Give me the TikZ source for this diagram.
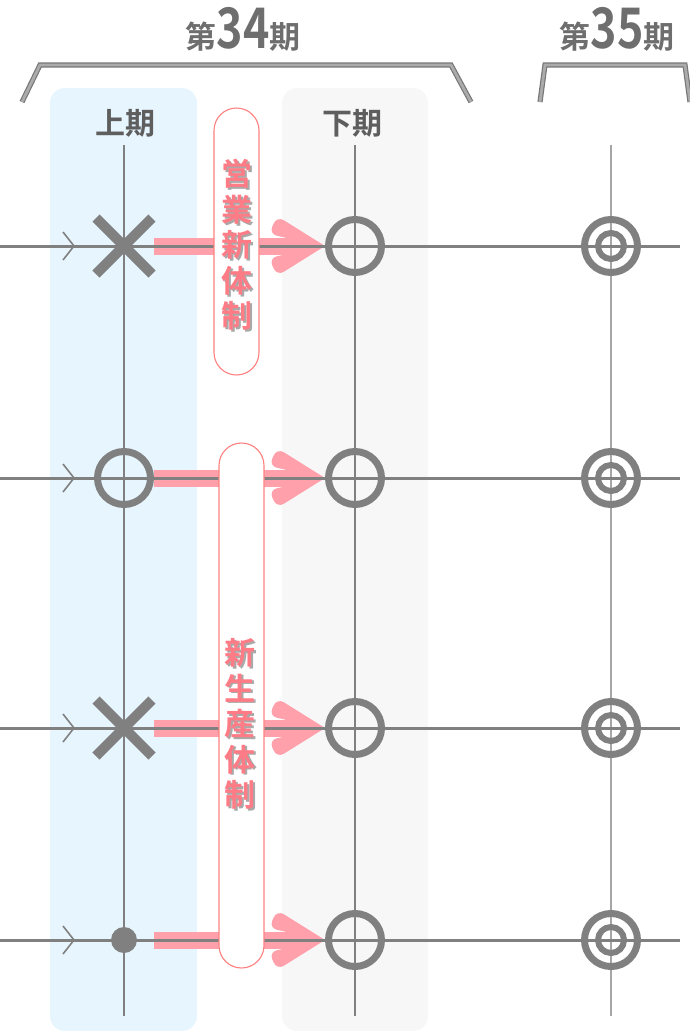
\documentclass[tikz,border=0pt]{standalone}
\usepackage{fontspec}
\newfontfamily\jp{Noto Sans CJK JP}[BoldFont={Noto Sans CJK JP Bold}]
\usetikzlibrary{calc,shapes.misc}
\definecolor{symgray}{HTML}{808080}
\definecolor{vgray}{HTML}{A6A6A6}
\definecolor{titlegray}{HTML}{6E6E6E}
\definecolor{headgray}{HTML}{5E5E5E}
\definecolor{bluebg}{HTML}{E7F5FE}
\definecolor{graybg}{HTML}{F7F7F7}
\definecolor{bandpink}{HTML}{FFA0AA}
\definecolor{cappink}{HTML}{FF8080}
\definecolor{txtpink}{HTML}{FF7C86}
\definecolor{shadowgray}{HTML}{A9A9A9}
\definecolor{braceedge}{HTML}{777777}
\definecolor{bracefill}{HTML}{ABABAB}
\pgfdeclarelayer{bg}
\pgfdeclarelayer{band}
\pgfdeclarelayer{lines}
\pgfsetlayers{bg,band,lines,main}
\begin{document}
\begin{tikzpicture}[x=1pt,y=-1pt,
  xmark/.style={cross out,draw=symgray,line width=10pt,minimum size=46pt,inner sep=0pt},
  omark/.style={circle,draw=symgray,line width=7pt,minimum size=53pt,inner sep=0pt},
  dotmark/.style={circle,fill=symgray,minimum size=26pt,inner sep=0pt},
  ringline/.style={draw=symgray,line width=6pt},
  hline/.style={draw=symgray,line width=3pt},
  vline/.style={draw=symgray,line width=1.5pt},
  vlinelight/.style={draw=vgray,line width=2pt},
  chev/.style={draw=symgray,line width=1.6pt},
  bandc/.style={fill=bandpink},
  capsule/.style={draw=cappink,fill=white,line width=1.1pt,rounded corners=22.5pt,minimum width=45pt,inner sep=0pt},
  captext/.style={text=txtpink,align=center,inner sep=0pt,font=\jp\bfseries\fontsize{31}{35.5}\selectfont},
  capshadow/.style={text=shadowgray,align=center,inner sep=0pt,font=\jp\bfseries\fontsize{31}{35.5}\selectfont},
  brace/.style={draw=braceedge,line width=1.2pt,double=bracefill,double distance=2.8pt},
  title/.style={text=titlegray,inner sep=0pt,anchor=base,font=\jp\bfseries\fontsize{31}{31}\selectfont},
  head/.style={text=headgray,inner sep=0pt,font=\jp\bfseries\fontsize{30}{30}\selectfont}
]
\useasboundingbox (0,0) rectangle (690,1031);

% ---------- background panels ----------
\begin{pgfonlayer}{bg}
  \fill[bluebg,rounded corners=15pt] (50,88) rectangle (197,1031);
  \fill[graybg,rounded corners=15pt] (282,88) rectangle (428,1031);
\end{pgfonlayer}

% ---------- titles ----------
\node[title] (t34) at (243,48) {第{\fontsize{56}{56}\selectfont\scalebox{0.8}[1]{34}}期};
\node[title] (t35) at (617,48) {第{\fontsize{56}{56}\selectfont\scalebox{0.8}[1]{35}}期};
\draw[brace] (22,102) -- (40,65) -- (451,65) -- (471,102);
\draw[brace] (540,102) -- (545,65) -- (685,65) -- (690,102);

\node[head] (h1) at (125,123) {上期};
\node[head] (h2) at (352,123) {下期};

% ---------- symbols ----------
\node[xmark] (s11) at (124,246) {};
\node[omark] (s12) at (355,246) {};
\node[omark] (s13) at (611,246) {};
\node[omark] (s21) at (124,478) {};
\node[omark] (s22) at (355,478) {};
\node[omark] (s23) at (611,478) {};
\node[xmark] (s31) at (124,728) {};
\node[omark] (s32) at (355,728) {};
\node[omark] (s33) at (611,728) {};
\node[dotmark] (s41) at (124,940) {};
\node[omark] (s42) at (355,940) {};
\node[omark] (s43) at (611,940) {};
\foreach \n in {s13,s23,s33,s43}{\draw[ringline] (\n.center) circle[radius=13];}

% ---------- capsules ----------
\node[capsule,minimum height=267pt] (cap1) at (236.5,241.5) {};
\node[capsule,minimum height=525pt] (cap2) at (241.5,705.5) {};
\node[capshadow] (sh1) at (238.8,246.8) {営\\業\\新\\体\\制};
\node[captext] (lab1) at (237,245) {営\\業\\新\\体\\制};
\node[capshadow] (sh2) at (241.8,725.8) {新\\生\\産\\体\\制};
\node[captext] (lab2) at (240,724) {新\\生\\産\\体\\制};

% ---------- grid lines ----------
\begin{pgfonlayer}{lines}
  \coordinate (v1t) at (124,145); \coordinate (v1b) at (124,1016);
  \coordinate (v2t) at (355,145); \coordinate (v2b) at (355,1016);
  \coordinate (v3t) at (611,145); \coordinate (v3b) at (611,1016);
  \draw[vline] (v1t) -- (v1b);
  \draw[vline] (v2t) -- (v2b);
  \draw[vlinelight] (v3t) -- (v3b);
  \foreach \i/\yy in {1/246,2/478,3/728,4/940}{
    \coordinate (hs\i) at (0,\yy);
    \coordinate (he\i) at (680,\yy);
    \coordinate (m\i) at (74,\yy);
    \draw[hline] (hs\i) -- (he\i);
    \draw[chev] ($(m\i)+(-11,-14)$) -- (m\i) -- ($(m\i)+(-11,14)$);
  }
\end{pgfonlayer}

% ---------- pink arrows ----------
\begin{pgfonlayer}{band}
  \foreach \i/\yy in {1/246,2/478,3/728,4/940}{
    \coordinate (a\i) at (154,\yy);
    \fill[bandc] ($(a\i)+(0,-8.5)$) rectangle ($(s\i2.west)+(-20,8.5)$);
    \fill[bandc] (s\i2.west) [rounded corners=8pt] -- ++(-48,-30) -- ++(-8,18)
      [sharp corners] -- ++(16,3.5) -- ++(0,17) [rounded corners=8pt] -- ++(-16,3.5) -- ++(8,18) [sharp corners] -- cycle;
  }
\end{pgfonlayer}
\end{tikzpicture}
\end{document}
